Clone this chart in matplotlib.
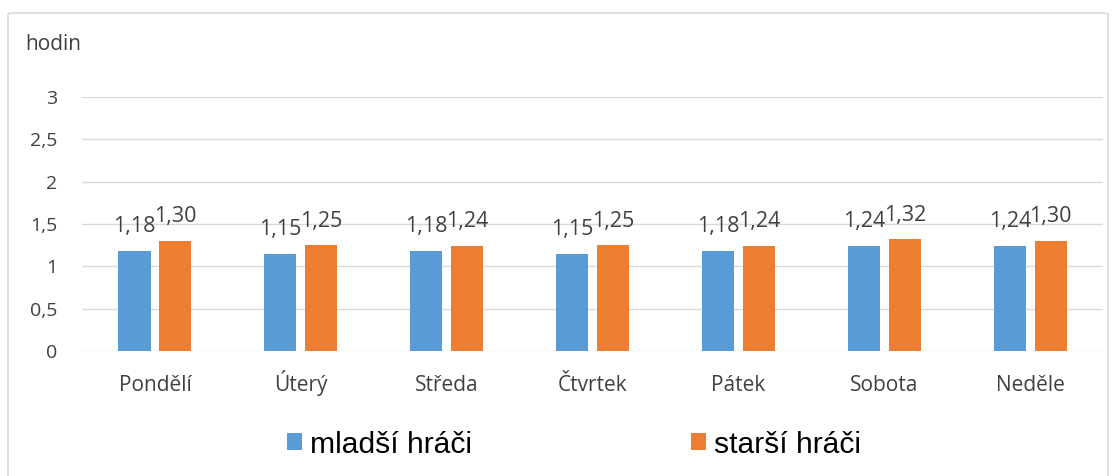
import matplotlib.pyplot as plt
import matplotlib.patches as mpatches
import numpy as np

# Data
days = ['Pondělí', 'Úterý', 'Středa', 'Čtvrtek', 'Pátek', 'Sobota', 'Neděle']
mladsi = [1.18, 1.15, 1.18, 1.15, 1.18, 1.24, 1.24]
starsi = [1.30, 1.25, 1.24, 1.25, 1.24, 1.32, 1.30]
series_names = ['mladší hráči', 'starší hráči']
colors = ['#5B9BD5', '#ED7D31']
text_color = '#404040'

plt.rcParams['font.family'] = ['Open Sans', 'DejaVu Sans']

fig = plt.figure(figsize=(11.15, 4.76), dpi=100)
ax = fig.add_axes([0.0735, 0.2626, 0.916, 0.5336])

# outer chart border
border = mpatches.FancyBboxPatch((8 / 1115, -0.01), 1100 / 1115, 1 - 13 / 476 + 0.01,
                                 boxstyle='round,pad=0,rounding_size=0.004',
                                 transform=fig.transFigure, fill=False,
                                 edgecolor='#D9D9D9', linewidth=1.2)
fig.patches.append(border)

x = np.arange(len(days))
w = 0.22
off = 0.14
b1 = ax.bar(x - off, mladsi, w, color=colors[0], label=series_names[0], zorder=3)
b2 = ax.bar(x + off, starsi, w, color=colors[1], label=series_names[1], zorder=3)

for bars, vals in ((b1, mladsi), (b2, starsi)):
    for rect, v in zip(bars, vals):
        ax.text(rect.get_x() + rect.get_width() / 2, v + 0.22, f'{v:.2f}'.replace('.', ','),
                ha='center', va='baseline', fontsize=15.5, color=text_color)

ax.set_xlim(-0.5, len(days) - 0.5)
ax.set_ylim(0, 3)
ax.set_yticks([0, 0.5, 1, 1.5, 2, 2.5, 3])
ax.set_yticklabels(['0', '0,5', '1', '1,5', '2', '2,5', '3'])
ax.set_xticks(x)
ax.set_xticklabels(days)
ax.tick_params(axis='y', length=0, pad=18, labelsize=14, labelcolor=text_color)
ax.tick_params(axis='x', length=0, pad=29, labelsize=15, labelcolor=text_color)
for lbl in ax.get_xticklabels():
    lbl.set_va('baseline')
ax.grid(axis='y', color='#D9D9D9', linewidth=1, zorder=0)
for s in ax.spines.values():
    s.set_visible(False)

fig.text(25 / 1115, 1 - 45 / 476, 'hodin', fontsize=15, color=text_color, va='center', ha='left')

fig.legend(handles=[b1, b2], labels=series_names, loc='center', bbox_to_anchor=(0.515, 0.066),
           ncol=2, frameon=False, columnspacing=7.3, handlelength=0.5, handleheight=0.5,
           handletextpad=0.27, prop={'family': 'Liberation Sans', 'size': 21.6})

fig.savefig('out.png', dpi=100, facecolor='white')
